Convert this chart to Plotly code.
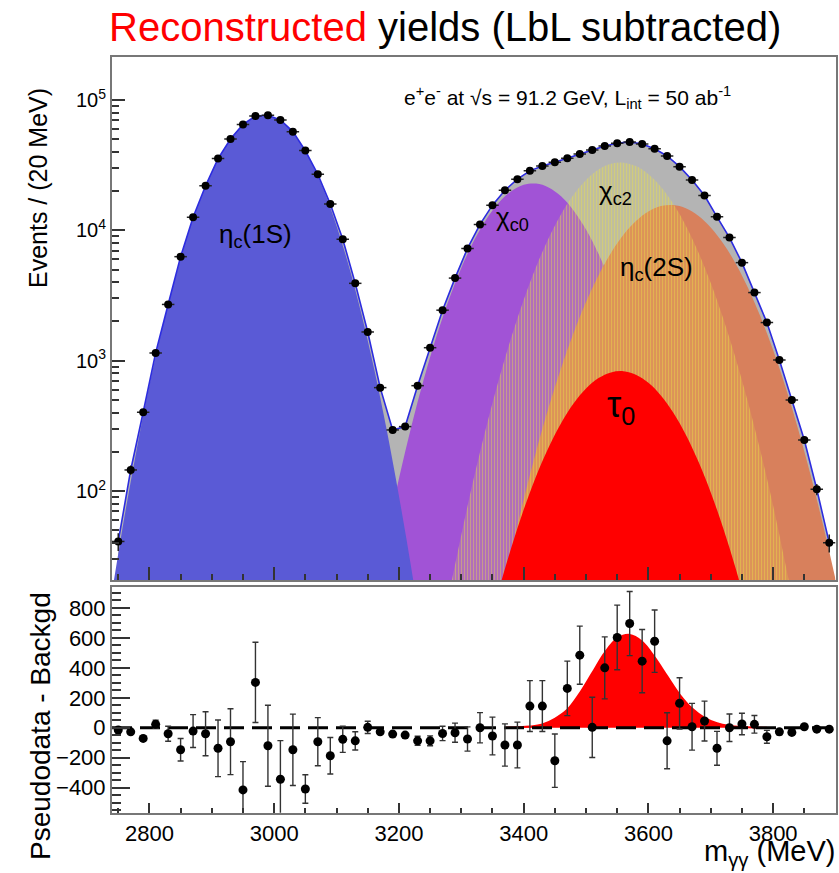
import numpy as np
import plotly.graph_objects as go

W, H = 839, 873

# ---------------- data ----------------
# bin centres (20 MeV bins)
mass = list(range(2750, 3900, 20))

# pseudodata (upper panel), events / 20 MeV
counts = [41, 145, 402, 1145, 2700, 6280, 12600, 22000, 35500, 50200,
          65000, 75300, 76300, 70300, 57200, 40900, 26900, 15900, 8550, 3920,
          1660, 621, 294, 312, 643, 1257, 2440, 4300, 7270, 11100,
          15600, 20300, 24700, 28600, 31200, 33300, 35700, 38500, 41400, 44400,
          46600, 47700, 46000, 42200, 37200, 30800, 24300, 18500, 12700, 8800,
          5650, 3330, 1960, 1013, 499, 246, 103, 40]

# pseudodata - background (lower panel)
resid = [-15, -27, -71, 23, -40, -147, -22, -40, -137, -93,
         -415, 303, -120, -344, -147, -409, -93, -187, -77, -87,
         3, -27, -42, -49, -87, -87, -38, -33, -75, 0,
         -55, -115, -115, 145, 145, -220, 263, 485, 3, 400,
         603, 696, 445, 578, -87, 163, 7, 45, -137, 0,
         25, 23, -60, -27, -31, 7, -9, -9]
resid_err = [12, 12, 15, 27, 50, 75, 110, 147, 189, 220,
             189, 268, 270, 258, 238, 95, 161, 122, 87, 61,
             41, 15, 12, 12, 30, 33, 48, 64, 81, 101,
             126, 141, 153, 170, 170, 178, 182, 194, 201, 207,
             216, 214, 211, 208, 187, 171, 156, 133, 113, 92,
             72, 59, 43, 20, 15, 12, 12, 12]

# fit components (upper panel)
eta1s_x = list(range(2740, 3260, 20))
eta1s_y = [16.7, 63.4, 214, 644, 1730, 4050, 8850, 16500, 28000, 42500,
           57500, 70000, 76000, 73000, 63100, 48310, 32890, 20040, 10860, 5260,
           2275, 877, 301, 92, 25.3, 6.2]

chic0_x = list(range(3140, 3700, 20))
chic0_y = [4.5, 14.9, 45, 124, 314, 723, 1524, 2930, 5150, 8280,
           12130, 16290, 19950, 22340, 22860, 21330, 18240, 14220, 10140, 6610,
           3930, 2140, 1062, 482, 200, 76, 26, 8.3]

chic2_x = list(range(3260, 3860, 20))
chic2_y = [5.0, 15.8, 46, 125, 310, 710, 1500, 2920, 5250, 8690,
           13300, 18750, 24380, 29240, 32360, 33040, 31120, 26980, 21630, 15960,
           10860, 6820, 3950, 2110, 1040, 473, 199, 77, 27, 9.0]

etac2s_x = list(range(3340, 3940, 20))
etac2s_y = [4.3, 12.6, 34, 86, 201, 437, 875, 1630, 2820, 4510,
            6700, 9230, 11780, 13960, 15350, 15630, 14760, 12940, 10520, 7930,
            5550, 3600, 2160, 1205, 624, 299, 133, 55, 21, 7.5]

tau0_x = list(range(3340, 3800, 20))
tau0_y = [7.4, 17.2, 36.6, 71.8, 130, 216, 331, 469, 611, 735,
          813, 830, 780, 676, 541, 398, 270, 169, 97.5, 51.8,
          25.4, 11.4, 4.8]

# signal curve in lower panel
sig_x = list(range(3370, 3810, 20))
sig_y = [1, 3, 8, 22, 60, 120, 230, 365, 500, 595,
         620, 575, 470, 345, 222, 128, 66, 30, 12, 4.5,
         1.5, 0.5]

# axes / tick labels
X_RANGE = [2740, 3900]
LOGY_RANGE = [1.317, 5.33]
RES_RANGE = [-567, 940]
log_tickvals = [1e2, 1e3, 1e4, 1e5]
log_ticktext = ["10<sup>2</sup>", "10<sup>3</sup>", "10<sup>4</sup>", "10<sup>5</sup>"]
log_minor = [m * 10 ** e for e in range(1, 5) for m in range(2, 10)]

# ---------------- figure ----------------
FONT = "Liberation Sans, Arial, sans-serif"
C_GREY = "#b4b4b4"
C_BLUE = "#5a5ad6"
C_PURPLE = "#a153d6"
C_SALMON = "#d8805c"
C_YELLOW = "rgb(236,228,70)"
C_RED = "#ff0000"
C_LINE = "#2c2ce0"

fig = go.Figure()

# total model (grey)
fig.add_trace(go.Scatter(x=mass, y=counts, mode="lines", line=dict(width=0, color=C_GREY),
                         fill="tozeroy", fillcolor=C_GREY, xaxis="x", yaxis="y", hoverinfo="skip"))
# chi_c0
fig.add_trace(go.Scatter(x=chic0_x, y=chic0_y, mode="lines", line=dict(width=0, color=C_PURPLE, shape="spline"),
                         fill="tozeroy", fillcolor=C_PURPLE, xaxis="x", yaxis="y"))
# eta_c(1S)
fig.add_trace(go.Scatter(x=eta1s_x, y=eta1s_y, mode="lines", line=dict(width=0, color=C_BLUE, shape="spline"),
                         fill="tozeroy", fillcolor=C_BLUE, xaxis="x", yaxis="y"))
# eta_c(2S)
fig.add_trace(go.Scatter(x=etac2s_x, y=etac2s_y, mode="lines", line=dict(width=0, color=C_SALMON, shape="spline"),
                         fill="tozeroy", fillcolor=C_SALMON, xaxis="x", yaxis="y"))
# chi_c2 (hatched)
fig.add_trace(go.Scatter(x=chic2_x, y=chic2_y, mode="lines", line=dict(width=0, color="rgba(0,0,0,0)", shape="spline"),
                         fill="tozeroy", fillcolor="rgba(0,0,0,0)",
                         fillpattern=dict(shape="|", fgcolor=C_YELLOW, bgcolor="rgba(0,0,0,0)",
                                          size=3, solidity=0.6),
                         xaxis="x", yaxis="y"))
# tau0
fig.add_trace(go.Scatter(x=tau0_x, y=tau0_y, mode="lines", line=dict(width=0, color=C_RED, shape="spline"),
                         fill="tozeroy", fillcolor=C_RED, xaxis="x", yaxis="y"))
# total model line
fig.add_trace(go.Scatter(x=mass, y=counts, mode="lines", line=dict(width=1.6, color=C_LINE),
                         xaxis="x", yaxis="y"))
# data
fig.add_trace(go.Scatter(x=mass, y=counts, mode="markers",
                         marker=dict(color="black", size=8),
                         error_x=dict(type="constant", value=10, width=0, thickness=1.5, color="#222"),
                         error_y=dict(type="data", array=np.sqrt(counts), width=0, thickness=1.5, color="#222"),
                         xaxis="x", yaxis="y"))

# lower panel
fig.add_trace(go.Scatter(x=sig_x, y=sig_y, mode="lines", line=dict(width=2, color=C_RED, shape="spline"),
                         fill="tozeroy", fillcolor=C_RED, xaxis="x2", yaxis="y2"))
fig.add_trace(go.Scatter(x=X_RANGE, y=[0, 0], mode="lines",
                         line=dict(color="black", width=3, dash="20px,8px"), xaxis="x2", yaxis="y2"))
fig.add_trace(go.Scatter(x=mass, y=resid, mode="markers",
                         marker=dict(color="black", size=9),
                         error_y=dict(type="data", array=resid_err, width=3, thickness=1.4, color="#333"),
                         xaxis="x2", yaxis="y2"))

XDOM = [112 / W, 835.5 / W]
axis_common = dict(showline=True, mirror=True, linecolor="#777", linewidth=2, showgrid=False,
                   zeroline=False, tickcolor="#333", tickwidth=1.5)

fig.update_layout(
    width=W, height=H, margin=dict(l=0, r=0, t=0, b=0),
    paper_bgcolor="white", plot_bgcolor="white", showlegend=False,
    font=dict(family=FONT, color="black"),
    xaxis=dict(domain=XDOM, anchor="y", range=X_RANGE, showticklabels=False,
               ticks="inside", ticklen=13, dtick=200, tick0=2800,
               minor=dict(ticks="inside", ticklen=6, dtick=50, tick0=2800, tickcolor="#333"),
               **axis_common),
    yaxis=dict(domain=[1 - 580 / H, 1 - 57 / H], anchor="x", type="log", range=LOGY_RANGE,
               tickmode="array", tickvals=log_tickvals, ticktext=log_ticktext,
               ticks="inside", ticklen=13, tickfont=dict(size=20),
               minor=dict(ticks="inside", ticklen=7, tickmode="array", tickvals=log_minor, tickcolor="#333"),
               **axis_common),
    xaxis2=dict(domain=XDOM, anchor="y2", range=X_RANGE, matches="x",
                ticks="inside", ticklen=10, dtick=200, tick0=2800, tickfont=dict(size=22),
                minor=dict(ticks="inside", ticklen=5, dtick=50, tick0=2800, tickcolor="#333"),
                **axis_common),
    yaxis2=dict(domain=[1 - 812.7 / H, 1 - 587 / H], anchor="x2", range=RES_RANGE,
                ticks="inside", ticklen=18, dtick=200, tick0=0, tickfont=dict(size=22),
                minor=dict(ticks="inside", ticklen=9, dtick=50, tick0=0, tickcolor="#333"),
                **axis_common),
)


def ann(text, xpx, ypx, size, **kw):
    fig.add_annotation(text=text, x=xpx / W, y=1 - ypx / H, xref="paper", yref="paper",
                       showarrow=False, font=dict(size=size, family=FONT, color=kw.pop("color", "black")),
                       **kw)


ann("<span style='color:#ff0000'>Reconstructed</span> yields (LbL subtracted)", 444.5, 27, 40,
    xanchor="center", yanchor="middle")
ann("Events / (20 MeV)", 38, 188, 25, textangle=-90, xanchor="center", yanchor="middle")
ann("Pseudodata - Backgd", 40, 726, 28, textangle=-90, xanchor="center", yanchor="middle")
ann("m<sub>γγ</sub> (MeV)", 837, 853, 29, xanchor="right", yanchor="middle")
ann("e<sup>+</sup>e<sup>-</sup> at √s = 91.2 GeV, L<sub>int</sub> = 50 ab<sup>-1</sup>", 567, 97, 21,
    xanchor="center", yanchor="middle")
ann("η<sub>c</sub>(1S)", 255, 236, 26, xanchor="center", yanchor="middle")
ann("χ<sub>c0</sub>", 512, 218, 26, xanchor="center", yanchor="middle")
ann("χ<sub>c2</sub>", 615, 192, 26, xanchor="center", yanchor="middle")
ann("η<sub>c</sub>(2S)", 656, 268, 26, xanchor="center", yanchor="middle")
ann("τ<sub>0</sub>", 621, 407, 36, xanchor="center", yanchor="middle")

fig.write_html("out.html")
